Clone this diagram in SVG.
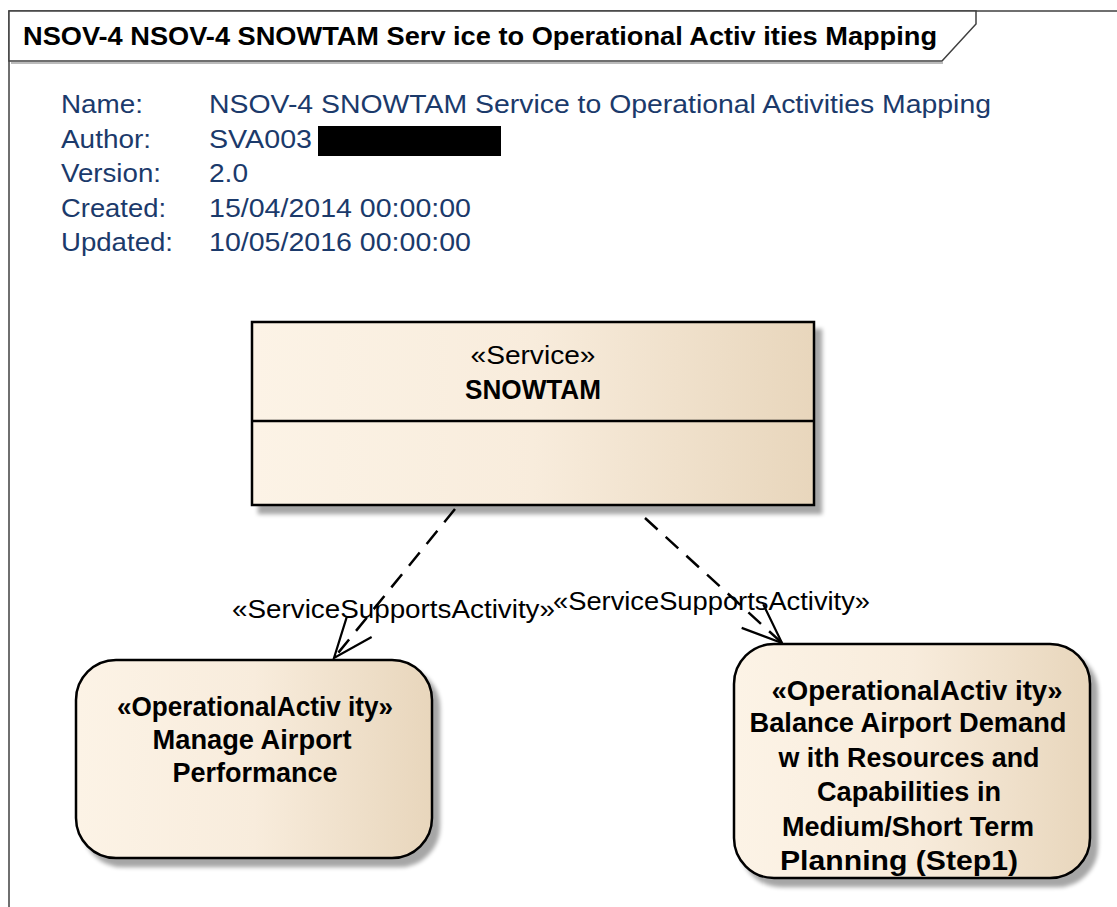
<svg xmlns="http://www.w3.org/2000/svg" width="1117" height="907" viewBox="0 0 1117 907">
<defs>
  <linearGradient id="fill" x1="0" y1="0" x2="1" y2="0">
    <stop offset="0" stop-color="#FCF3E6"/>
    <stop offset="0.5" stop-color="#F8ECDC"/>
    <stop offset="1" stop-color="#E8D6BC"/>
  </linearGradient>
  <filter id="shadow" x="-10%" y="-10%" width="130%" height="130%">
    <feGaussianBlur in="SourceAlpha" stdDeviation="2"/>
    <feOffset dx="7" dy="8" result="b"/>
    <feComponentTransfer><feFuncA type="linear" slope="0.35"/></feComponentTransfer>
    <feMerge><feMergeNode/><feMergeNode in="SourceGraphic"/></feMerge>
  </filter>
  <marker id="open" markerUnits="userSpaceOnUse" markerWidth="46" markerHeight="36" refX="42" refY="17" orient="auto">
    <path d="M2,1 L42,17 L2,33" fill="none" stroke="#000" stroke-width="2.2"/>
  </marker>
</defs>
<style>
  .frame{fill:none;stroke:#404040;stroke-width:1.5}
  .title{font-family:"Liberation Sans",Arial,sans-serif;font-weight:bold;font-size:25px;fill:#000}
  .meta{font-family:"Liberation Sans",Arial,sans-serif;font-size:26px;fill:#1B3A6B}
  .box{fill:url(#fill);stroke:#000;stroke-width:2.5;filter:url(#shadow)}
  .txt{font-family:"Liberation Sans",Arial,sans-serif;font-size:26px;fill:#000;text-anchor:middle}
  .bold{font-weight:bold;font-size:27px}
  .conn{fill:none;stroke:#000;stroke-width:2.5;stroke-dasharray:17,11;marker-end:url(#open)}
  .lbl{font-family:"Liberation Sans",Arial,sans-serif;font-size:26px;fill:#000}
</style>
<rect x="0" y="0" width="1117" height="907" fill="#fff"/>

<g id="frame">
  <path class="frame" d="M9,907 L9,11 L1117,11"/>
  <path d="M11,63 L943,63" stroke="#bbb" stroke-width="2"/>
  <path d="M9,11 L976,11 L976,24 L942,61 L9,61 Z" fill="#fff" stroke="#404040" stroke-width="1.5"/>
  <text class="title" x="23" y="45" textLength="914" lengthAdjust="spacingAndGlyphs">NSOV-4 NSOV-4 SNOWTAM Serv ice to Operational Activ ities Mapping</text>
</g>

<g id="metadata">
  <text class="meta" x="61" y="113" textLength="82" lengthAdjust="spacingAndGlyphs">Name:</text>
  <text class="meta" x="209" y="113" textLength="782" lengthAdjust="spacingAndGlyphs">NSOV-4 SNOWTAM Service to Operational Activities Mapping</text>
  <text class="meta" x="61" y="147.5" textLength="90" lengthAdjust="spacingAndGlyphs">Author:</text>
  <text class="meta" x="209" y="147.5" textLength="103" lengthAdjust="spacingAndGlyphs">SVA003</text>
  <rect x="318" y="126" width="183" height="30" fill="#000"/>
  <text class="meta" x="61" y="182" textLength="100" lengthAdjust="spacingAndGlyphs">Version:</text>
  <text class="meta" x="209" y="182" textLength="39" lengthAdjust="spacingAndGlyphs">2.0</text>
  <text class="meta" x="61" y="216.5" textLength="105" lengthAdjust="spacingAndGlyphs">Created:</text>
  <text class="meta" x="209" y="216.5" textLength="262" lengthAdjust="spacingAndGlyphs">15/04/2014 00:00:00</text>
  <text class="meta" x="61" y="251" textLength="112" lengthAdjust="spacingAndGlyphs">Updated:</text>
  <text class="meta" x="209" y="251" textLength="262" lengthAdjust="spacingAndGlyphs">10/05/2016 00:00:00</text>
</g>

<g id="connectors">
  <path class="conn" d="M455,509 L334,658"/>
  <path class="conn" d="M645,518 L782,643"/>
  <text class="lbl" x="232" y="618" textLength="323" lengthAdjust="spacingAndGlyphs">«ServiceSupportsActivity»</text>
  <text class="lbl" x="553" y="610" textLength="317" lengthAdjust="spacingAndGlyphs">«ServiceSupportsActivity»</text>
</g>

<g id="service-snowtam">
  <rect class="box" x="252" y="322" width="562" height="183"/>
  <line x1="252" y1="421" x2="814" y2="421" stroke="#000" stroke-width="2.5"/>
  <text class="txt" x="533" y="364" textLength="125" lengthAdjust="spacingAndGlyphs">«Service»</text>
  <text class="txt bold" x="533" y="399" textLength="136" lengthAdjust="spacingAndGlyphs">SNOWTAM</text>
</g>

<g id="activity-manage">
  <rect class="box" x="76" y="660" width="356" height="198" rx="40" ry="40"/>
  <text class="txt bold" x="255" y="716" textLength="276" lengthAdjust="spacingAndGlyphs">«OperationalActiv ity»</text>
  <text class="txt bold" x="252" y="749" textLength="199" lengthAdjust="spacingAndGlyphs">Manage Airport</text>
  <text class="txt bold" x="255" y="782" textLength="165" lengthAdjust="spacingAndGlyphs">Performance</text>
</g>

<g id="activity-balance">
  <rect class="box" x="734" y="644" width="356" height="234" rx="40" ry="40"/>
  <text class="txt bold" x="917" y="700" textLength="291" lengthAdjust="spacingAndGlyphs">«OperationalActiv ity»</text>
  <text class="txt bold" x="908" y="732" textLength="317" lengthAdjust="spacingAndGlyphs">Balance Airport Demand</text>
  <text class="txt bold" x="909" y="767" textLength="261" lengthAdjust="spacingAndGlyphs">w ith Resources and</text>
  <text class="txt bold" x="909" y="801" textLength="184" lengthAdjust="spacingAndGlyphs">Capabilities in</text>
  <text class="txt bold" x="908" y="836" textLength="252" lengthAdjust="spacingAndGlyphs">Medium/Short Term</text>
  <text class="txt bold" x="899" y="870" textLength="238" lengthAdjust="spacingAndGlyphs">Planning (Step1)</text>
</g>
</svg>
